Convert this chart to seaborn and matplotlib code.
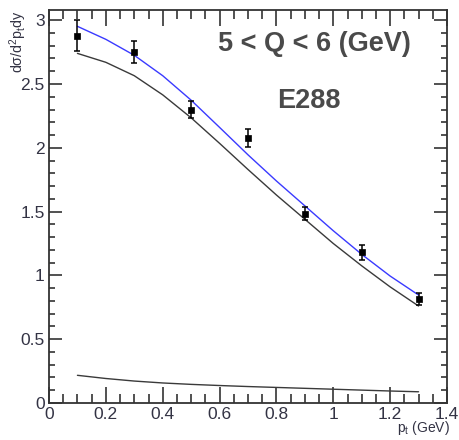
import seaborn as sns
import matplotlib.pyplot as plt
import pandas as pd
from matplotlib.ticker import MultipleLocator

# data points (E288, 5 < Q < 6 GeV)
pt_data = [0.1, 0.3, 0.5, 0.7, 0.9, 1.1, 1.3]
xsec = [2.88, 2.75, 2.30, 2.08, 1.485, 1.18, 0.815]
xsec_err = [0.12, 0.085, 0.07, 0.07, 0.05, 0.06, 0.045]

# theory curves
pt_curve = [0.1, 0.2, 0.3, 0.4, 0.5, 0.6, 0.7, 0.8, 0.9, 1.0, 1.1, 1.2, 1.3]
blue_curve = [2.952, 2.85, 2.725, 2.565, 2.373, 2.16, 1.945, 1.74, 1.545,
              1.35, 1.165, 0.995, 0.846]
black_curve = [2.74, 2.67, 2.565, 2.415, 2.235, 2.035, 1.83, 1.63, 1.44,
               1.25, 1.075, 0.91, 0.76]
low_curve = [0.217, 0.192, 0.172, 0.157, 0.146, 0.137, 0.129, 0.122, 0.115,
             0.108, 0.101, 0.094, 0.088]

curves = pd.DataFrame({'pt': pt_curve, 'blue': blue_curve,
                       'black': black_curve, 'low': low_curve})

sns.set_style('ticks')
plt.rcParams['font.family'] = ['Liberation Sans', 'DejaVu Sans']

fig = plt.figure(figsize=(4.59, 4.40), dpi=100)
ax = fig.add_axes([49/459, 37/440, 398/459, 393/440])

sns.lineplot(data=curves, x='pt', y='blue', color='#3a3aff', lw=1.0, ax=ax)
sns.lineplot(data=curves, x='pt', y='black', color='#3a3a3a', lw=1.0, ax=ax)
sns.lineplot(data=curves, x='pt', y='low', color='#3a3a3a', lw=1.0, ax=ax)
ax.errorbar(pt_data, xsec, yerr=xsec_err, fmt='none', ecolor='black',
            elinewidth=1.1, capsize=2, capthick=1.1)
sns.scatterplot(x=pt_data, y=xsec, marker='s', color='black', s=18,
                edgecolor='black', linewidth=0.5, ax=ax, zorder=5)

ax.set_xlim(0, 1.4)
ax.set_ylim(0, 3.08)
ax.xaxis.set_minor_locator(MultipleLocator(0.05))
ax.yaxis.set_minor_locator(MultipleLocator(0.1))
ax.set_xticks([0, 0.2, 0.4, 0.6, 0.8, 1, 1.2, 1.4])
ax.set_xticklabels(['0', '0.2', '0.4', '0.6', '0.8', '1', '1.2', '1.4'])
ax.set_yticks([0, 0.5, 1, 1.5, 2, 2.5, 3])
ax.set_yticklabels(['0', '0.5', '1', '1.5', '2', '2.5', '3'])
ax.tick_params(which='both', direction='in', top=True, right=True,
               colors='#333333', labelcolor='#333344', labelsize=12.5, width=1.2)
ax.tick_params(axis='x', which='major', length=11.5, pad=3)
ax.tick_params(axis='x', which='minor', length=6.5)
ax.tick_params(axis='y', which='major', length=9.5, pad=3)
ax.tick_params(axis='y', which='minor', length=4.5)
for sp in ax.spines.values():
    sp.set_color('#333333')
    sp.set_linewidth(1.3)

ax.set_xlabel('')
ax.set_ylabel('')
fig.text(450/459, 8/440, r'$\mathregular{p_t}$ (GeV)', ha='right', va='baseline',
         fontsize=10, color='#333344')
fig.text(7/459, 430/440, r'$\mathregular{d\sigma/d^2p_t dy}$', rotation=90,
         ha='left', va='top', fontsize=10.3, color='#333344')

ax.text(0.909, 0.896, '5 < Q < 6 (GeV)', transform=ax.transAxes, ha='right',
        va='baseline', fontsize=19.5, fontweight='bold', color='#4a4a4a')
ax.text(0.574, 0.75, 'E288', transform=ax.transAxes, ha='left',
        va='baseline', fontsize=19.5, fontweight='bold', color='#4a4a4a')

fig.savefig('out.png', dpi=100)
